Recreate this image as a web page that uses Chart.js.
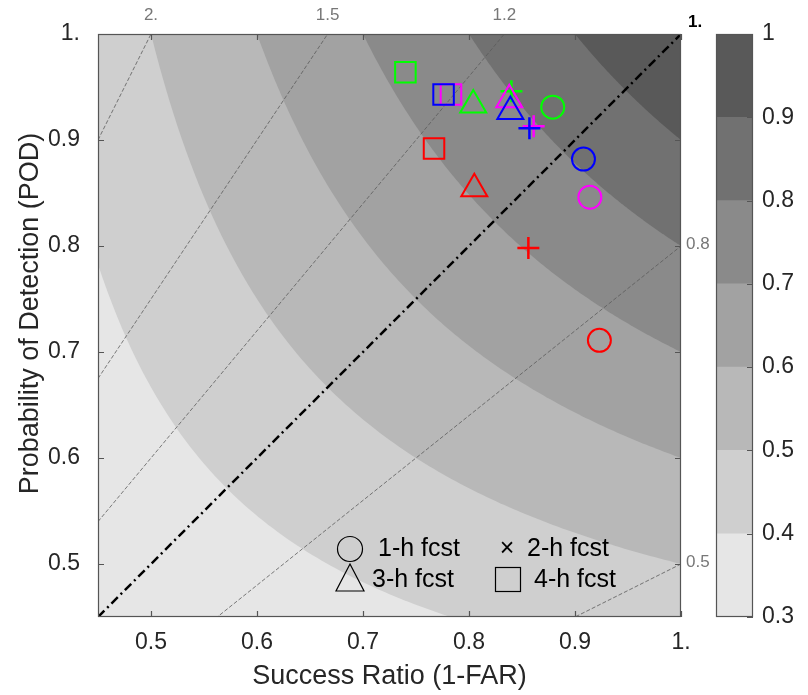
<!DOCTYPE html>
<html>
<head>
<meta charset="utf-8">
<script src="https://cdn.jsdelivr.net/npm/chart.js@4.4.0/dist/chart.umd.min.js"></script>
<style>
  html, body { margin: 0; padding: 0; background: #ffffff; }
  #wrap { position: relative; width: 808px; height: 695px; }
  #main { position: absolute; left: 0; top: 0; }
  #cbar { position: absolute; left: 700px; top: 0; }
</style>
</head>
<body>
<div id="wrap">
  <canvas id="main" width="808" height="695" style="width:808px;height:695px"></canvas>
  <canvas id="cbar" width="108" height="695" style="width:108px;height:695px"></canvas>
</div>
<script>
// ---- axes ----
const srTicks  = [0.5, 0.6, 0.7, 0.8, 0.9, 1.0];
const podTicks = [0.5, 0.6, 0.7, 0.8, 0.9, 1.0];
const cbarTicks = [0.3, 0.4, 0.5, 0.6, 0.7, 0.8, 0.9, 1.0];
const xTitle = 'Success Ratio (1-FAR)';
const yTitle = 'Probability of Detection (POD)';

// ---- critical success index shading ----
const csiLevels = [0.3, 0.4, 0.5, 0.6, 0.7, 0.8, 0.9, 1.0];
const csiColors = ['#e6e6e6', '#cfcfcf', '#b8b8b8', '#a2a2a2', '#8a8a8a', '#717171', '#595959'];

// ---- frequency bias reference lines ----
const biasValues = [2, 1.5, 1.2, 1, 0.8, 0.5];
const biasLabels = ['2.', '1.5', '1.2', '1.', '0.8', '0.5'];

// ---- forecasts: 1-h, 2-h, 3-h, 4-h lead times ----
const leadLabels  = ['1-h fcst', '2-h fcst', '3-h fcst', '4-h fcst'];
const leadMarkers = ['circle', 'cross', 'triangle', 'rect'];
const leadSizes   = [11.5, 11, 15, 14.5];

const redSR      = [0.923, 0.856, 0.805, 0.767];
const redPOD     = [0.711, 0.798, 0.854, 0.892];
const greenSR    = [0.879, 0.840, 0.804, 0.740];
const greenPOD   = [0.931, 0.946, 0.933, 0.964];
const magentaSR  = [0.914, 0.861, 0.838, 0.783];
const magentaPOD = [0.846, 0.913, 0.938, 0.943];
const blueSR     = [0.908, 0.857, 0.839, 0.776];
const bluePOD    = [0.882, 0.911, 0.927, 0.943];

const FONT = "'Liberation Sans', Arial, Helvetica, sans-serif";
const TXT = '#262626';

// CSI isoline: POD as a function of SR for a fixed CSI value
function isoline(c) {
  const pts = [];
  const start = Math.max(c, 0.45);
  const n = 120;
  for (let i = 0; i <= n; i++) {
    const sr = start + (1 - start) * i / n;
    pts.push({ x: sr, y: 1 / (1 / c - 1 / sr + 1) });
  }
  return pts;
}

const datasets = [];

// filled bands, each covering CSI >= level
for (let i = 1; i < csiColors.length; i++) {
  datasets.push({
    data: isoline(csiLevels[i]),
    borderWidth: 0,
    borderColor: 'rgba(0,0,0,0)',
    backgroundColor: csiColors[i],
    fill: 'end',
    pointRadius: 0,
    clip: 0,
    order: 100 - i
  });
}

// bias lines POD = b * SR
biasValues.forEach((b) => {
  const main = b === 1;
  datasets.push({
    data: [{ x: 0.45, y: 0.45 * b }, { x: 1, y: b }],
    borderColor: main ? '#000000' : '#5a5a5a',
    borderWidth: main ? 2.5 : 0.8,
    borderDash: main ? [9, 4, 2, 4] : [4, 2],
    pointRadius: 0,
    fill: false,
    clip: 0,
    order: 50
  });
});

function markerSet(sr, pod, color, order) {
  return {
    data: sr.map((v, i) => ({ x: v, y: pod[i] })),
    showLine: false,
    fill: false,
    pointStyle: leadMarkers,
    pointRadius: leadSizes,
    pointBorderWidth: [2, 2.5, 2, 2],
    pointBorderColor: color,
    pointBackgroundColor: 'rgba(0,0,0,0)',
    borderColor: color,
    order: order
  };
}
datasets.push(markerSet(redSR, redPOD, '#ff0000', 4));
datasets.push(markerSet(greenSR, greenPOD, '#00ff00', 3));
datasets.push(markerSet(magentaSR, magentaPOD, '#ff00ff', 2));
datasets.push(markerSet(blueSR, bluePOD, '#0000ff', 1));

const fmtTick = (v) => Math.abs(v - 1) < 1e-9 ? '1.' : Number(v).toFixed(1);

const framePlugin = {
  id: 'framePlugin',
  beforeDatasetsDraw(chart) {
    const { ctx, chartArea: a } = chart;
    ctx.save();
    ctx.fillStyle = csiColors[0];
    ctx.fillRect(a.left, a.top, a.right - a.left, a.bottom - a.top);
    ctx.restore();
  },
  afterDatasetsDraw(chart) {
    const { ctx, chartArea: a, scales } = chart;
    ctx.save();
    ctx.strokeStyle = '#555555';
    ctx.lineWidth = 1.2;
    ctx.strokeRect(a.left + 0.5, a.top + 0.5, a.right - a.left - 1, a.bottom - a.top - 1);
    ctx.beginPath();
    const tl = 6;
    srTicks.forEach((v) => {
      const x = Math.round(scales.x.getPixelForValue(v)) + 0.5;
      ctx.moveTo(x, a.bottom); ctx.lineTo(x, a.bottom - tl);
      ctx.moveTo(x, a.top); ctx.lineTo(x, a.top + tl);
    });
    podTicks.forEach((v) => {
      const y = Math.round(scales.y.getPixelForValue(v)) + 0.5;
      ctx.moveTo(a.left, y); ctx.lineTo(a.left + tl, y);
      ctx.moveTo(a.right, y); ctx.lineTo(a.right - tl, y);
    });
    ctx.stroke();
    ctx.restore();
  },
  afterDraw(chart) {
    const { ctx, chartArea: a, scales } = chart;
    ctx.save();

    // vertical axis title
    ctx.save();
    ctx.translate(31, (a.top + a.bottom) / 2 - 12);
    ctx.rotate(-Math.PI / 2);
    ctx.font = '27px ' + FONT;
    ctx.fillStyle = TXT;
    ctx.textAlign = 'center';
    ctx.textBaseline = 'middle';
    ctx.fillText(yTitle, 0, 0);
    ctx.restore();

    // bias labels
    ctx.textBaseline = 'middle';
    biasValues.forEach((b, i) => {
      if (b === 1) {
        ctx.font = 'bold 17px ' + FONT;
        ctx.fillStyle = '#000000';
        ctx.textAlign = 'left';
        ctx.fillText(biasLabels[i], a.right + 7, a.top - 12);
      } else if (b > 1) {
        ctx.font = '17px ' + FONT;
        ctx.fillStyle = '#777777';
        ctx.textAlign = 'center';
        ctx.fillText(biasLabels[i], scales.x.getPixelForValue(1 / b), a.top - 19);
      } else {
        ctx.font = '17px ' + FONT;
        ctx.fillStyle = '#777777';
        ctx.textAlign = 'left';
        ctx.fillText(biasLabels[i], a.right + 5, scales.y.getPixelForValue(b) - 2);
      }
    });

    // legend for lead times
    const lx = a.left + 252, ly1 = a.bottom - 68, ly2 = a.bottom - 38;
    ctx.strokeStyle = '#000000';
    ctx.lineWidth = 1.2;
    ctx.beginPath();
    ctx.arc(lx, ly1, 12.5, 0, Math.PI * 2);
    ctx.stroke();
    ctx.beginPath();
    ctx.moveTo(lx, ly2 - 15);
    ctx.lineTo(lx + 14, ly2 + 12);
    ctx.lineTo(lx - 14, ly2 + 12);
    ctx.closePath();
    ctx.stroke();
    ctx.strokeRect(lx + 145.5, ly2 - 11.5, 25, 24);

    ctx.fillStyle = '#000000';
    ctx.font = '25px ' + FONT;
    ctx.textAlign = 'left';
    ctx.textBaseline = 'middle';
    ctx.fillText(leadLabels[0], lx + 28, ly1);
    ctx.fillText(leadLabels[2], lx + 22, ly2 + 1);
    ctx.fillText(leadLabels[3], lx + 184, ly2 + 1);
    ctx.fillText(leadLabels[1], lx + 177, ly1);
    ctx.textAlign = 'center';
    ctx.fillText('\u00d7', lx + 157, ly1);
    ctx.restore();
  }
};

new Chart(document.getElementById('main'), {
  type: 'line',
  data: { datasets },
  options: {
    responsive: false,
    animation: false,
    events: [],
    layout: { padding: { left: 0, top: 34, right: 127, bottom: 0 } },
    plugins: { legend: { display: false }, tooltip: { enabled: false } },
    scales: {
      x: {
        type: 'linear', min: 0.45, max: 1,
        afterBuildTicks: (s) => { s.ticks = srTicks.map((v) => ({ value: v })); },
        afterFit: (s) => { s.height = 78; },
        grid: { display: false, drawTicks: false },
        border: { display: false },
        ticks: { padding: 12, color: TXT, font: { family: FONT, size: 23 }, callback: (v) => fmtTick(v), maxRotation: 0 },
        title: { display: true, text: xTitle, color: TXT, font: { family: FONT, size: 27 }, padding: { top: 0, bottom: 2 } }
      },
      y: {
        type: 'linear', min: 0.45, max: 1,
        afterBuildTicks: (s) => { s.ticks = podTicks.map((v) => ({ value: v })); },
        afterFit: (s) => { s.width = 98; },
        grid: { display: false, drawTicks: false },
        border: { display: false },
        ticks: { padding: 18, color: TXT, font: { family: FONT, size: 23 }, callback: (v) => fmtTick(v) }
      }
    }
  },
  plugins: [framePlugin]
});

// ---- colour bar ----
const cbarFrame = {
  id: 'cbarFrame',
  afterDatasetsDraw(chart) {
    const { ctx, chartArea: a, scales } = chart;
    ctx.save();
    ctx.strokeStyle = '#555555';
    ctx.lineWidth = 1.2;
    ctx.strokeRect(a.left + 0.5, a.top + 0.5, a.right - a.left - 1, a.bottom - a.top - 1);
    ctx.beginPath();
    cbarTicks.forEach((v) => {
      const y = Math.round(scales.y.getPixelForValue(v)) + 0.5;
      ctx.moveTo(a.right, y); ctx.lineTo(a.right - 6, y);
    });
    ctx.stroke();
    ctx.restore();
  }
};

new Chart(document.getElementById('cbar'), {
  type: 'bar',
  data: {
    labels: [''],
    datasets: csiColors.map((c, i) => ({
      data: [[csiLevels[i], csiLevels[i + 1]]],
      backgroundColor: c,
      borderWidth: 0,
      barPercentage: 1,
      categoryPercentage: 1,
      grouped: false
    }))
  },
  options: {
    responsive: false,
    animation: false,
    events: [],
    layout: { padding: { left: 16, top: 34, right: 0, bottom: 78 } },
    plugins: { legend: { display: false }, tooltip: { enabled: false } },
    scales: {
      x: { display: false },
      y: {
        position: 'right', min: 0.3, max: 1,
        afterBuildTicks: (s) => { s.ticks = cbarTicks.map((v) => ({ value: v })); },
        afterFit: (s) => { s.width = 55; },
        grid: { display: false, drawTicks: false },
        border: { display: false },
        ticks: { padding: 9, color: TXT, font: { family: FONT, size: 23 }, callback: (v) => String(Math.round(v * 10) / 10) }
      }
    }
  },
  plugins: [cbarFrame]
});
</script>
</body>
</html>
